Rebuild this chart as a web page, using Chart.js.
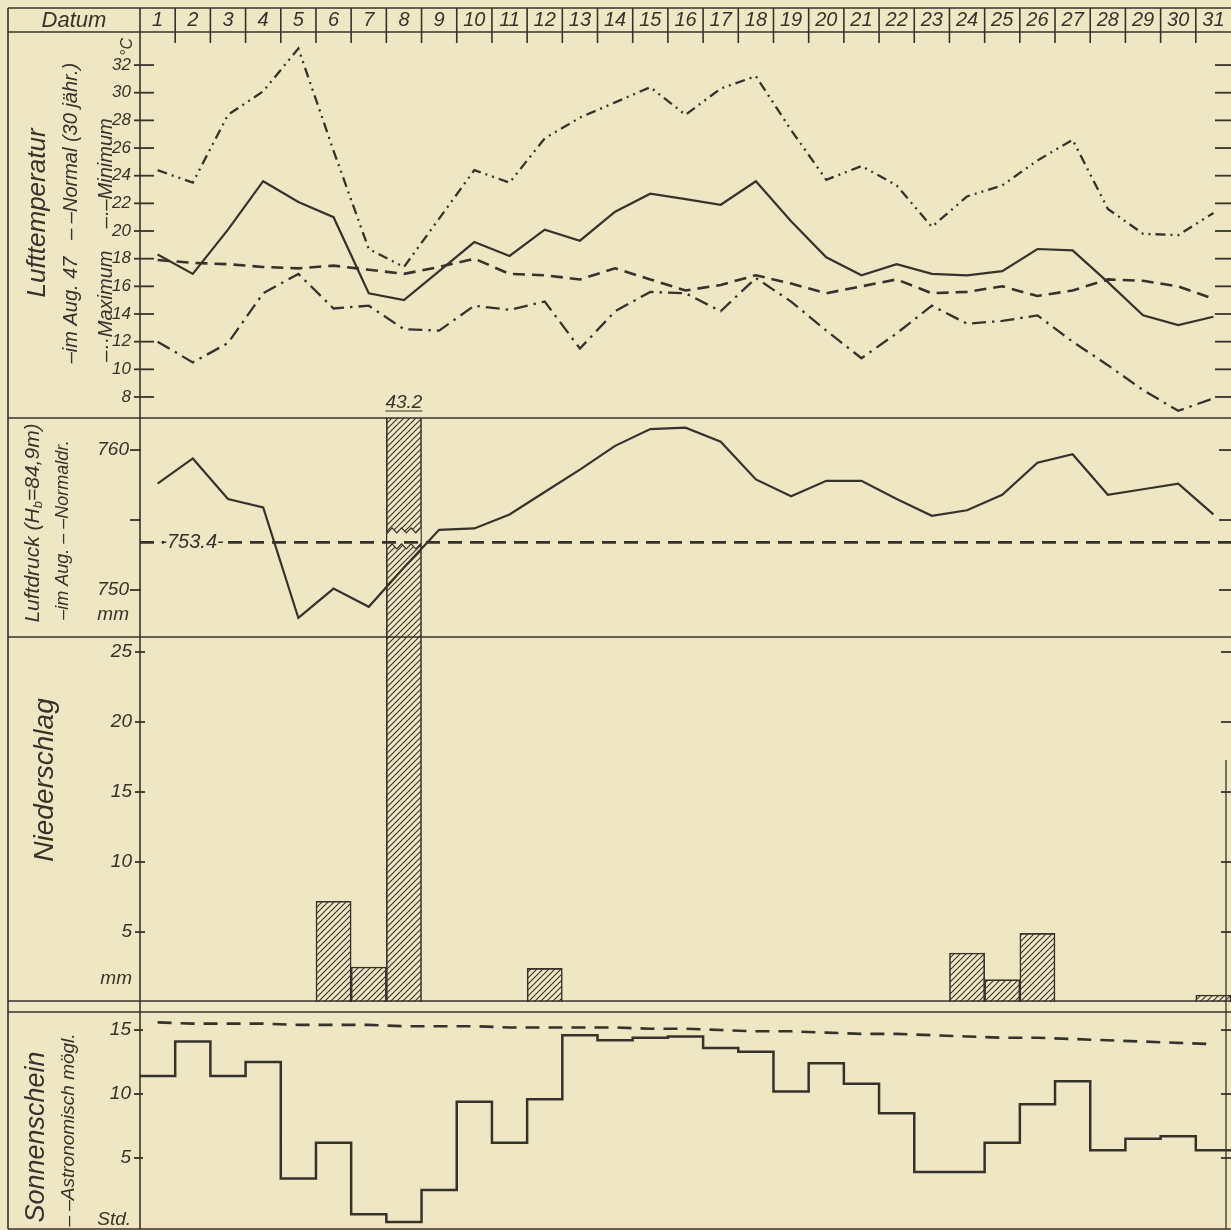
<!DOCTYPE html>
<html lang="de">
<head>
<meta charset="utf-8">
<title>Witterung im August 1947</title>
<script src="https://cdn.jsdelivr.net/npm/chart.js@4.4.1/dist/chart.umd.min.js"></script>
<style>
  html, body { margin: 0; padding: 0; background: #efe6c4; }
  #wrap { width: 1231px; height: 1230px; }
</style>
</head>
<body>
<div id="wrap"><canvas id="blatt" width="1231" height="1230"></canvas></div>
<script>
const tage = [1, 2, 3, 4, 5, 6, 7, 8, 9, 10, 11, 12, 13, 14, 15, 16, 17, 18, 19, 20, 21, 22, 23, 24, 25, 26, 27, 28, 29, 30, 31];

const tempMittel = [18.3, 16.9, 20.1, 23.6, 22.1, 21.0, 15.5, 15.0, 17.1, 19.2, 18.2, 20.1, 19.3, 21.4, 22.7, 22.3, 21.9, 23.6, 20.7, 18.1, 16.8, 17.6, 16.9, 16.8, 17.1, 18.7, 18.6, 16.3, 13.9, 13.2, 13.8];
const tempNormal = [17.9, 17.7, 17.6, 17.4, 17.3, 17.5, 17.2, 16.9, 17.4, 18.0, 16.9, 16.8, 16.5, 17.3, 16.5, 15.7, 16.1, 16.8, 16.2, 15.5, 16.0, 16.5, 15.5, 15.6, 16.0, 15.3, 15.7, 16.5, 16.4, 16.0, 15.1];
const tempMax = [24.4, 23.5, 28.4, 30.1, 33.2, 25.8, 18.7, 17.4, 20.9, 24.4, 23.5, 26.7, 28.2, 29.3, 30.4, 28.4, 30.3, 31.2, 27.3, 23.7, 24.7, 23.3, 20.3, 22.5, 23.3, 25.1, 26.6, 21.6, 19.8, 19.7, 21.3];
const tempMin = [12.0, 10.5, 11.9, 15.5, 16.9, 14.4, 14.6, 12.9, 12.8, 14.6, 14.3, 14.9, 11.5, 14.2, 15.6, 15.5, 14.2, 16.6, 14.9, 12.8, 10.8, 12.6, 14.6, 13.3, 13.5, 13.9, 12.0, 10.3, 8.5, 7.0, 7.9];

const luftdruck = [757.6, 759.4, 756.5, 755.9, 748.0, 750.1, 748.8, 751.6, 754.3, 754.4, 755.4, 757.0, 758.6, 760.3, 761.5, 761.6, 760.6, 757.9, 756.7, 757.8, 757.8, 756.5, 755.3, 755.7, 756.8, 759.1, 759.7, 756.8, 757.2, 757.6, 755.4];
const druckNormal = 753.4;

const niederschlag = [0, 0, 0, 0, 0, 7.2, 2.5, 43.2, 0, 0, 0, 2.4, 0, 0, 0, 0, 0, 0, 0, 0, 0, 0, 0, 3.5, 1.6, 4.9, 0, 0, 0, 0, 0.5];

const sonne = [11.4, 14.1, 11.4, 12.5, 3.4, 6.2, 0.6, 0.0, 2.5, 9.4, 6.2, 9.6, 14.6, 14.2, 14.4, 14.5, 13.6, 13.3, 10.2, 12.4, 10.8, 8.5, 3.9, 3.9, 6.2, 9.2, 11.0, 5.6, 6.5, 6.7, 5.6];
const sonneMoeglich = [15.6, 15.5, 15.5, 15.5, 15.4, 15.4, 15.4, 15.3, 15.3, 15.3, 15.2, 15.2, 15.2, 15.2, 15.1, 15.1, 15.0, 14.9, 14.9, 14.8, 14.7, 14.7, 14.6, 14.5, 14.4, 14.4, 14.3, 14.2, 14.1, 14.0, 13.9];

// Achsenbeschriftung
const tempTicks = [8, 10, 12, 14, 16, 18, 20, 22, 24, 26, 28, 30, 32];
const druckTicks = [750, 755, 760];
const druckOhneZahl = [755];
const regenTicks = [5, 10, 15, 20, 25];
const sonneTicks = [5, 10, 15];

// --- Aussehen ---
const papier = "#efe6c4";
const tinte = "#37322a";
const schrift = '"Liberation Sans Narrow", "Liberation Sans", sans-serif';
const kopfHoehe = 32;
const linkeSpalte = 140;
const panel = { temp: 386, druck: 219, regen: 375, sonne: 217 };

Chart.defaults.font.family = schrift;
Chart.defaults.font.style = "italic";
Chart.defaults.color = tinte;

function schraffur() {
  const c = document.createElement("canvas");
  c.width = 6; c.height = 6;
  const g = c.getContext("2d");
  g.fillStyle = papier;
  g.fillRect(0, 0, 6, 6);
  g.strokeStyle = tinte;
  g.lineWidth = 1.1;
  g.beginPath();
  g.moveTo(-1, 7); g.lineTo(7, -1);
  g.moveTo(5, 7); g.lineTo(7, 5);
  g.moveTo(-1, 1); g.lineTo(1, -1);
  g.stroke();
  return g.createPattern(c, "repeat");
}

// Strichmarken an den Achsen (links aussen/innen, rechter Rand)
const marken = {
  temp: { aussen: 6, innen: 14, rechts: 16 },
  druck: { aussen: 10, innen: 1, rechts: 12 },
  regen: { aussen: 5, innen: 5, rechts: 10 },
  sonne: { aussen: 6, innen: 3, rechts: 10 },
};

function ohnePolster(s) {
  s.paddingTop = 0;
  s.paddingBottom = 0;
  s.paddingLeft = 0;
  s.paddingRight = 0;
}

function achse(cfg) {
  return {
    type: "linear",
    position: "left",
    stack: "blatt",
    stackWeight: cfg.hoehe,
    weight: cfg.gewicht,
    min: cfg.min,
    max: cfg.max,
    grid: { display: false, drawTicks: false, tickLength: 0 },
    border: { display: false },
    afterFit(s) {
      s.width = linkeSpalte;
      ohnePolster(s);
    },
    afterBuildTicks(s) {
      s.ticks = cfg.ticks.map((v) => ({ value: v }));
      if (cfg.einheit) s.ticks.unshift({ value: cfg.einheit.wert, einheit: cfg.einheit.text });
    },
    ticks: {
      autoSkip: false,
      padding: cfg.abstand,
      color: tinte,
      font: { size: cfg.groesse, style: "italic" },
      callback(value, i, ticks) {
        if (ticks[i].einheit) return ticks[i].einheit;
        return cfg.ohneZahl && cfg.ohneZahl.includes(value) ? "" : String(value);
      },
    },
  };
}

function senkrecht(ctx, teile, x, y) {
  ctx.save();
  ctx.translate(x, y);
  ctx.rotate(-Math.PI / 2);
  ctx.textBaseline = "middle";
  ctx.textAlign = "left";
  let breite = 0;
  teile.forEach((t) => {
    ctx.font = "italic " + t.s + "px " + schrift;
    t.w = ctx.measureText(t.t).width;
    breite += t.w;
  });
  let pos = -breite / 2;
  teile.forEach((t) => {
    ctx.font = "italic " + t.s + "px " + schrift;
    ctx.fillText(t.t, pos, t.dy || 0);
    pos += t.w;
  });
  ctx.restore();
}

const legende = [
  { x: 38, y: 213, teile: [{ t: "Lufttemperatur", s: 26 }] },
  { x: 71, y: 213, teile: [{ t: "–im Aug. 47   – –Normal (30 jähr.)", s: 20 }] },
  { x: 106, y: 240, teile: [{ t: "–··Maximum    –·–Minimum", s: 20 }] },
  { x: 33, y: 523, teile: [{ t: "Luftdruck (H", s: 21 }, { t: "b", s: 13, dy: 5 }, { t: "=84,9m)", s: 21 }] },
  { x: 63, y: 530, teile: [{ t: "–im Aug. – –Normaldr.", s: 18 }] },
  { x: 45, y: 780, teile: [{ t: "Niederschlag", s: 28 }] },
  { x: 36, y: 1137, teile: [{ t: "Sonnenschein", s: 27 }] },
  { x: 69, y: 1130, teile: [{ t: "– –Astronomisch mögl.", s: 19 }] },
];

const iMax = niederschlag.indexOf(Math.max(...niederschlag));

const blattPlugin = {
  id: "blatt",
  beforeDraw(chart) {
    const ctx = chart.ctx;
    ctx.save();
    ctx.fillStyle = papier;
    ctx.fillRect(0, 0, chart.width, chart.height);
    ctx.restore();
  },
  afterDatasetDraw(chart, args) {
    if (args.meta.type !== "bar") return;
    // Bruchstelle im ueberlangen Balken
    const ctx = chart.ctx;
    const el = args.meta.data[iMax];
    const { x: bx, width: bw } = el.getProps(["x", "width"], true);
    const yN = chart.scales.druck.getPixelForValue(druckNormal);
    const oben = yN - 12, unten = yN + 4;
    const l = bx - bw / 2 + 1, r = bx + bw / 2 - 1;
    const zack = (y, von, bis, richtung) => {
      const n = 7;
      for (let k = 0; k <= n; k++) {
        const xx = von + (bis - von) * (k / n);
        ctx.lineTo(xx, y + (k % 2 ? -2.5 : 2.5) * richtung);
      }
    };
    ctx.save();
    ctx.beginPath();
    ctx.moveTo(l, oben);
    zack(oben, l, r, 1);
    ctx.lineTo(r, unten);
    zack(unten, r, l, -1);
    ctx.closePath();
    ctx.fillStyle = papier;
    ctx.fill();
    ctx.strokeStyle = tinte;
    ctx.lineWidth = 1.3;
    ctx.beginPath(); ctx.moveTo(l, oben); zack(oben, l, r, 1); ctx.stroke();
    ctx.beginPath(); ctx.moveTo(r, unten); zack(unten, r, l, -1); ctx.stroke();
    ctx.restore();
  },
  afterDraw(chart) {
    const ctx = chart.ctx;
    const { left: L, right: R, bottom: B } = chart.chartArea;
    const sx = chart.scales.x;
    const s = chart.scales;
    const linie = (x1, y1, x2, y2, w) => {
      ctx.lineWidth = w || 1.6;
      ctx.beginPath(); ctx.moveTo(x1, y1); ctx.lineTo(x2, y2); ctx.stroke();
    };
    ctx.save();
    ctx.strokeStyle = tinte;
    ctx.fillStyle = tinte;

    // Rahmen und Trennlinien
    linie(8, 8, R, 8);
    linie(8, kopfHoehe, R, kopfHoehe);
    linie(8, 8, 8, B);
    linie(L, 8, L, B);
    linie(8, s.temp.bottom, R, s.temp.bottom);
    linie(8, s.druck.bottom, R, s.druck.bottom);
    linie(8, s.regen.getPixelForValue(0) - 1, R, s.regen.getPixelForValue(0) - 1);
    linie(8, s.regen.bottom, R, s.regen.bottom);
    linie(8, B, R, B);
    linie(R - 5, 760, R - 5, B, 1.3);

    // Kopfzeile
    tage.forEach((d) => {
      const xb = sx.getPixelForValue(d + 0.5);
      if (xb < R - 1) {
        linie(xb, 8, xb, kopfHoehe);
        linie(xb, kopfHoehe, xb, kopfHoehe + 11);
      }
    });
    ctx.font = "italic 22px " + schrift;
    ctx.textAlign = "center";
    ctx.textBaseline = "middle";
    ctx.fillText("Datum", 74, 21);

    // Strichmarken
    Object.keys(marken).forEach((id) => {
      const m = marken[id];
      s[id].ticks.forEach((t) => {
        if (t.einheit) return;
        const y = s[id].getPixelForValue(t.value);
        linie(L - m.aussen, y, L + m.innen, y, 1.8);
        linie(R - m.rechts, y, R, y, 1.8);
      });
    });

    // senkrechte Beschriftung
    legende.forEach((g) => senkrecht(ctx, g.teile, g.x, g.y));
    senkrecht(ctx, [{ t: "°C", s: 16 }], 128, 47);

    // Wert ueber dem abgeschnittenen Balken
    const el = chart.getDatasetMeta(0).data[iMax];
    const bx = el.getProps(["x"], true).x;
    const yt = s.temp.bottom;
    ctx.font = "italic 19px " + schrift;
    ctx.textAlign = "center";
    ctx.textBaseline = "alphabetic";
    const txt = niederschlag[iMax].toFixed(1);
    ctx.fillText(txt, bx, yt - 10);
    const tw = ctx.measureText(txt).width;
    linie(bx - tw / 2, yt - 7, bx + tw / 2, yt - 7, 1.2);

    // Normaldruck-Beschriftung
    const yN = s.druck.getPixelForValue(druckNormal);
    ctx.fillStyle = papier;
    ctx.fillRect(164, yN - 10, 56, 20);
    ctx.fillStyle = tinte;
    ctx.font = "italic 20px " + schrift;
    ctx.textBaseline = "middle";
    ctx.fillText("-" + druckNormal.toFixed(1) + "-", 192, yN);
    ctx.restore();
  },
};

const punkte = (werte) => tage.map((d, i) => ({ x: d, y: werte[i] }));
const sonnePunkte = tage.map((d, i) => ({ x: d - 0.5, y: sonne[i] }));
sonnePunkte.push({ x: tage[tage.length - 1] + 0.5, y: sonne[sonne.length - 1] });

const strich = (daten, achseId, extra) => Object.assign({
  type: "line",
  data: daten,
  yAxisID: achseId,
  xAxisID: "x",
  borderColor: tinte,
  borderWidth: 2.2,
  pointRadius: 0,
  tension: 0,
  fill: false,
  order: 1,
}, extra || {});

new Chart(document.getElementById("blatt"), {
  type: "bar",
  data: {
    datasets: [
      {
        type: "bar",
        label: "Niederschlag",
        data: tage.map((d, i) => ({ x: d, y: niederschlag[i] > 0 ? niederschlag[i] : null })),
        yAxisID: "regen",
        xAxisID: "x",
        backgroundColor: schraffur(),
        borderColor: tinte,
        borderWidth: 1.6,
        barPercentage: 1,
        categoryPercentage: 1,
        clip: { left: 0, right: 0, bottom: 0, top: panel.druck },
        order: 10,
      },
      strich(punkte(tempMax), "temp", { borderDash: [10, 5, 2, 5, 2, 5], borderWidth: 2.3 }),
      strich(punkte(tempMin), "temp", { borderDash: [14, 6, 2.5, 6], borderWidth: 2.3 }),
      strich(punkte(tempNormal), "temp", { borderDash: [12, 7], borderWidth: 2.6 }),
      strich(punkte(tempMittel), "temp"),
      strich(punkte(luftdruck), "druck"),
      strich([{ x: 0.5, y: druckNormal }, { x: 31.5, y: druckNormal }], "druck", { borderDash: [14, 8], borderWidth: 2.6 }),
      strich(punkte(sonneMoeglich), "sonne", { borderDash: [14, 9], borderWidth: 2.6 }),
      strich(sonnePunkte, "sonne", { stepped: true, borderWidth: 2.5 }),
    ],
  },
  options: {
    responsive: false,
    animation: false,
    devicePixelRatio: 1,
    events: [],
    layout: { padding: { left: 0, top: 0, right: 0, bottom: 1 } },
    plugins: {
      legend: { display: false },
      tooltip: { enabled: false },
    },
    scales: {
      x: {
        type: "linear",
        position: "top",
        min: 0.5,
        max: 31.5,
        offset: false,
        grid: { display: false, drawTicks: false, tickLength: 0 },
        border: { display: false },
        afterFit(sc) {
          sc.height = kopfHoehe;
          ohnePolster(sc);
        },
        afterBuildTicks(sc) { sc.ticks = tage.map((v) => ({ value: v })); },
        ticks: {
          autoSkip: false,
          maxRotation: 0,
          padding: 0,
          color: tinte,
          font: { size: 20, style: "italic" },
          callback: (v) => String(v),
        },
      },
      temp: achse({ hoehe: panel.temp, gewicht: 4, min: 6.48, max: 34.39, ticks: tempTicks, abstand: 9, groesse: 17 }),
      druck: achse({ hoehe: panel.druck, gewicht: 3, min: 746.64, max: 762.29, ticks: druckTicks, ohneZahl: druckOhneZahl, abstand: 11, groesse: 19, einheit: { wert: 748.2, text: "mm" } }),
      regen: achse({ hoehe: panel.regen, gewicht: 2, min: -0.71, max: 26.07, ticks: regenTicks, abstand: 8, groesse: 19, einheit: { wert: 1.7, text: "mm" } }),
      sonne: achse({ hoehe: panel.sonne, gewicht: 1, min: -0.55, max: 16.41, ticks: sonneTicks, abstand: 9, groesse: 19, einheit: { wert: 0.2, text: "Std." } }),
    },
  },
  plugins: [blattPlugin],
});
</script>
</body>
</html>
